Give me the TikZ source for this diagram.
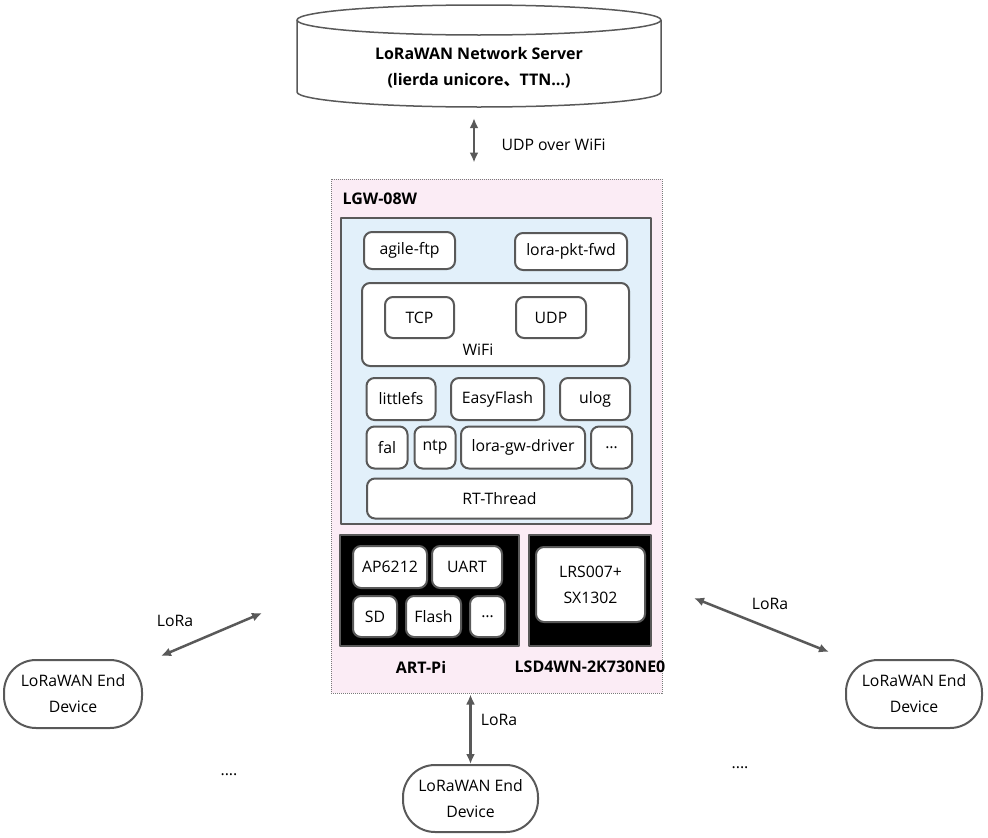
\documentclass[tikz,border=0pt]{standalone}
\usepackage{fontspec}
\setmainfont{Open Sans}
\newfontfamily\cjk{Noto Sans CJK SC}
\usetikzlibrary{arrows.meta}
\definecolor{rosado}{RGB}{251,236,245}
\definecolor{celeste}{RGB}{226,240,250}
\definecolor{gris}{RGB}{89,89,89}

\begin{document}
\begin{tikzpicture}[x=1pt, y=-1pt, font=\fontsize{15.8}{26}\selectfont, line join=round,
  modulo/.style={draw=gris, line width=2pt, fill=white, rounded corners=8pt, inner sep=0pt, align=center},
  placa/.style={draw=gris, line width=2pt, fill=black},
  nodo/.style={draw=gris, line width=2pt, rounded corners=32pt, align=center, inner sep=0pt},
  enlace/.style={{Latex[length=10pt,width=9pt]}-{Latex[length=10pt,width=9pt]}, draw=gris, line width=2.5pt},
  titulo/.style={font=\fontsize{16}{26}\selectfont\bfseries}]
  \useasboundingbox (0,0) rectangle (988,838);

  \draw[gris, line width=1.5pt, fill=white] (297,20) -- (297,92) arc[start angle=180, end angle=0, x radius=182, y radius=15] -- (661,20);
  \draw[gris, line width=1.5pt, fill=white] (479,20) ellipse [x radius=182, y radius=15];
  \node[titulo, align=center, minimum width=364pt, minimum height=78pt, inner sep=0pt] (server) at (479,68) {LoRaWAN Network Server\\(lierda unicore{\cjk 、}TTN…)};

  \node[draw=gris!80, densely dotted, line width=1pt, fill=rosado, minimum width=331pt, minimum height=514pt] (gw) at (496.5,436) {};
  \node[titulo, anchor=west] (nombre) at (339,199) {LGW-08W};
  \node[draw=gris, line width=2.5pt, fill=celeste, minimum width=310pt, minimum height=306pt] (rtos) at (496,371) {};

  \node[modulo, minimum width=91pt, minimum height=37pt] (ftp) at (409.5,250.5) {agile-ftp};
  \node[modulo, minimum width=112pt, minimum height=37pt] (pktfwd) at (571,251.5) {lora-pkt-fwd};
  \node[modulo, minimum width=267pt, minimum height=83pt] (wifi) at (495.5,324.5) {};
  \node (wifilbl) at (478,350) {WiFi};
  \node[modulo, minimum width=69pt, minimum height=41pt] (tcp) at (419.5,317.5) {TCP};
  \node[modulo, minimum width=70pt, minimum height=41pt] (udp) at (551,317.5) {UDP};
  \node[modulo, minimum width=69pt, minimum height=42pt] (lfs) at (401,399) {littlefs};
  \node[modulo, minimum width=93pt, minimum height=42pt] (ef) at (497.5,399) {EasyFlash};
  \node[modulo, minimum width=70pt, minimum height=42pt] (ulog) at (595,399) {ulog};
  \node[modulo, minimum width=41pt, minimum height=42pt] (fal) at (387,447.5) {fal};
  \node[modulo, minimum width=41pt, minimum height=42pt] (ntp) at (435,447.5) {ntp};
  \node[modulo, minimum width=124pt, minimum height=42pt] (gwdrv) at (523,447.5) {lora-gw-driver};
  \node[modulo, minimum width=41pt, minimum height=42pt] (otros) at (611.5,447.5) {…};
  \node[modulo, minimum width=265pt, minimum height=40pt] (rtt) at (499.5,498.5) {RT-Thread};

  \node[placa, minimum width=179pt, minimum height=111pt] (artpi) at (429.5,590.5) {};
  \node[placa, minimum width=122pt, minimum height=111pt] (lsd) at (590,590.5) {};
  \node[modulo, minimum width=74pt, minimum height=42pt] (ap) at (390,567) {AP6212};
  \node[modulo, minimum width=70pt, minimum height=42pt] (uart) at (467,567) {UART};
  \node[modulo, minimum width=44pt, minimum height=41pt] (sd) at (375,616.5) {SD};
  \node[modulo, minimum width=55pt, minimum height=41pt] (flash) at (433.5,616.5) {Flash};
  \node[modulo, minimum width=35pt, minimum height=41pt] (mas) at (487.5,616.5) {…};
  \node[modulo, minimum width=109pt, minimum height=75pt] (lrs) at (590.5,584.5) {LRS007+\\SX1302};
  \node[titulo] (artlbl) at (421,667) {ART-Pi};
  \node[titulo] (lsdlbl) at (590,667) {LSD4WN-2K730NE0};

  \node[nodo, minimum width=138pt, minimum height=68pt] (ldev) at (73,694) {LoRaWAN End\\Device};
  \node[nodo, minimum width=136pt, minimum height=68pt] (rdev) at (914,694) {LoRaWAN End\\Device};
  \node[nodo, minimum width=135pt, minimum height=67pt] (bdev) at (470.5,798.5) {LoRaWAN End\\Device};

  \draw[enlace, shorten <=11pt, shorten >=16pt] ([xshift=-5pt]server.south) -- ([xshift=-22.5pt]gw.north);
  \node[anchor=west] (udplbl) at (498,145) {UDP over WiFi};
  \draw[enlace, shorten <=1pt] (bdev.north |- gw.south) -- (bdev.north);
  \node (lora1) at (499,720) {LoRa};
  \coordinate (lfin) at (262,613);
  \draw[enlace] ([shift={(18,-3)}]ldev.north east) -- (lfin);
  \node (lora2) at (175,621) {LoRa};
  \coordinate (rfin) at (694,598);
  \draw[enlace] (rfin) -- ([shift={(-16,-7)}]rdev.north west);
  \node (lora3) at (770,604) {LoRa};

  \node (pts1) at (229,775) {....};
  \node (pts2) at (740,768) {....};
\end{tikzpicture}
\end{document}
